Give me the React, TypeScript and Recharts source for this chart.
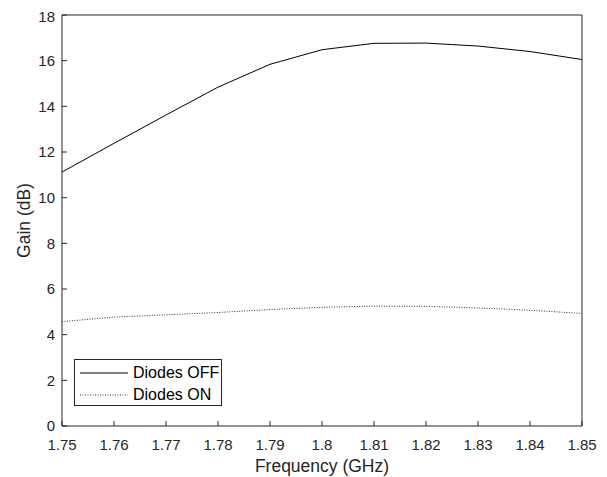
import React from "react";
import {
  LineChart,
  Line,
  XAxis,
  YAxis,
} from "recharts";

// frequency points (GHz)
const freqs = [1.75, 1.76, 1.77, 1.78, 1.79, 1.8, 1.81, 1.82, 1.83, 1.84, 1.85];
// gain in dB
const gainOff = [11.12, 12.38, 13.62, 14.84, 15.84, 16.48, 16.76, 16.77, 16.64, 16.4, 16.05];
const gainOn = [4.57, 4.77, 4.87, 4.97, 5.1, 5.2, 5.25, 5.24, 5.17, 5.07, 4.93];

const xTicks = [1.75, 1.76, 1.77, 1.78, 1.79, 1.8, 1.81, 1.82, 1.83, 1.84, 1.85];
const yTicks = [0, 2, 4, 6, 8, 10, 12, 14, 16, 18];

const axisColor = "#262626";
const font = "Arial, 'Liberation Sans', Helvetica, sans-serif";

export default function App() {
  const data = freqs.map((f, i) => ({ f, off: gainOff[i], on: gainOn[i] }));

  return (
    <div style={{ position: "relative", width: 591, height: 469, fontFamily: font }}>
      <LineChart
        width={591}
        height={469}
        data={data}
        margin={{ top: 6, right: 16, left: 0, bottom: 0 }}
      >
        <XAxis
          xAxisId="bottom"
          dataKey="f"
          type="number"
          domain={[1.75, 1.85]}
          ticks={xTicks}
          height={51}
          tickSize={-5}
          tickMargin={18}
          stroke={axisColor}
          tick={{ fill: axisColor, fontSize: 15, fontFamily: font }}
          tickFormatter={(v) => String(v)}
          label={{
            value: "Frequency (GHz)",
            position: "insideBottom",
            offset: 5,
            fill: axisColor,
            fontSize: 17.5,
            fontFamily: font,
          }}
        />
        <XAxis
          xAxisId="top"
          dataKey="f"
          type="number"
          orientation="top"
          domain={[1.75, 1.85]}
          ticks={xTicks}
          height={1}
          tickSize={-5}
          tick={false}
          stroke={axisColor}
        />
        <YAxis
          yAxisId="left"
          type="number"
          domain={[0, 18]}
          ticks={yTicks}
          width={54}
          tickSize={-5}
          tickMargin={12}
          stroke={axisColor}
          tick={{ fill: axisColor, fontSize: 15, fontFamily: font }}
          label={{
            value: "Gain (dB)",
            angle: -90,
            position: "insideLeft",
            offset: 16,
            fill: axisColor,
            fontSize: 17.5,
            fontFamily: font,
            style: { textAnchor: "middle" },
          }}
        />
        <YAxis
          yAxisId="right"
          orientation="right"
          type="number"
          domain={[0, 18]}
          ticks={yTicks}
          width={1}
          tickSize={-5}
          tick={false}
          stroke={axisColor}
        />
        <Line
          xAxisId="bottom"
          yAxisId="left"
          dataKey="off"
          type="linear"
          stroke="#000"
          strokeWidth={1}
          dot={false}
          isAnimationActive={false}
        />
        <Line
          xAxisId="bottom"
          yAxisId="left"
          dataKey="on"
          type="linear"
          stroke="#000"
          strokeWidth={0.8}
          strokeDasharray="1 1.5"
          dot={false}
          isAnimationActive={false}
        />
      </LineChart>
      <div
        style={{
          position: "absolute",
          left: 66,
          top: 351,
          width: 146,
          height: 45,
          border: `1px solid ${axisColor}`,
          background: "#fff",
          fontSize: 16,
          color: "#000",
        }}
      >
        {[
          { name: "Diodes OFF", dash: undefined, w: 1 },
          { name: "Diodes ON", dash: "1 1.5", w: 0.8 },
        ].map((item, i) => (
          <div
            key={item.name}
            style={{
              position: "absolute",
              left: 4,
              top: 3 + i * 22,
              height: 20,
              display: "flex",
              alignItems: "center",
              whiteSpace: "nowrap",
            }}
          >
            <svg width={50} height={20} style={{ display: "block" }}>
              <line
                x1={1}
                y1={10}
                x2={49}
                y2={10}
                stroke="#000"
                strokeWidth={item.w}
                strokeDasharray={item.dash}
              />
            </svg>
            <span style={{ marginLeft: 4 }}>{item.name}</span>
          </div>
        ))}
      </div>
    </div>
  );
}
